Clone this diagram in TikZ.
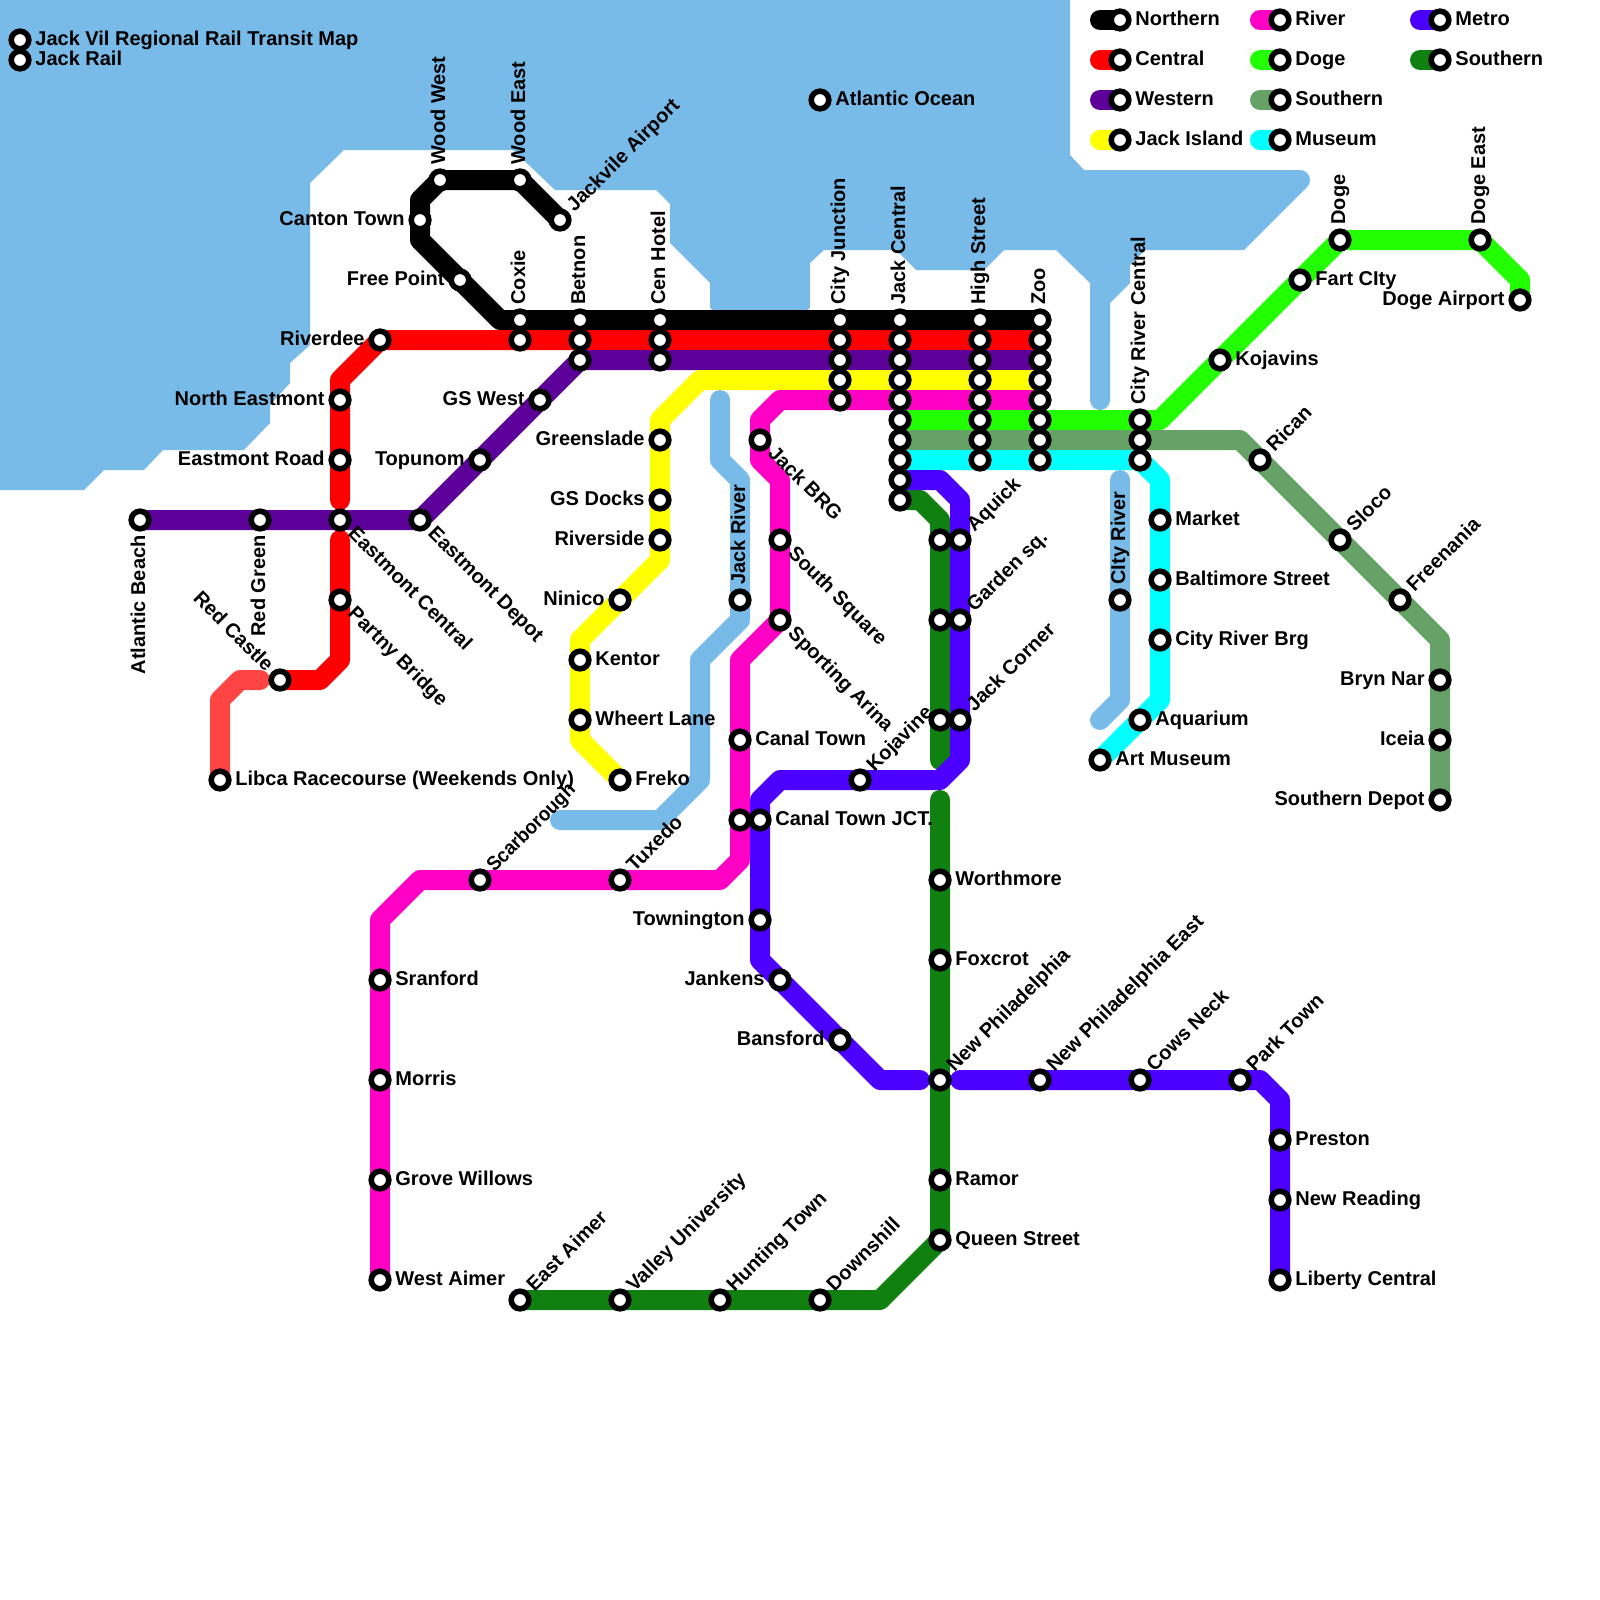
\documentclass[tikz,border=0pt]{standalone}
\usepackage{fontspec}
\setmainfont{Liberation Sans}
\usepackage{xcolor}
\usetikzlibrary{backgrounds}

\definecolor{watercol}{HTML}{79BBE8}
\definecolor{centralcol}{HTML}{FF0000}
\definecolor{lightredcol}{HTML}{FF4444}
\definecolor{westerncol}{HTML}{5C0099}
\definecolor{islandcol}{HTML}{FFFF00}
\definecolor{rivercol}{HTML}{FF00C4}
\definecolor{dogecol}{HTML}{22FF00}
\definecolor{southcol}{HTML}{66A266}
\definecolor{museumcol}{HTML}{00FFFF}
\definecolor{metrocol}{HTML}{4C00FF}
\definecolor{deepcol}{HTML}{108010}

\begin{document}
\begin{tikzpicture}[x=10pt, y=-10pt,
        rail/.style={line width=10pt, line cap=round, line join=round},
        stn/.style={circle, draw=black, fill=white, line width=2.8pt, minimum size=8.8pt, inner sep=0pt},
        labr/.style={anchor=base west, inner sep=0pt, font=\bfseries\fontsize{10}{12}\selectfont, rotate=#1, xshift=7.5pt, yshift=-2.6pt},
        labl/.style={anchor=base east, inner sep=0pt, font=\bfseries\fontsize{10}{12}\selectfont, rotate=#1, xshift=-7.5pt, yshift=-2.6pt},
    ]
    \useasboundingbox (0,0) rectangle (80,80);

    % Labels to the right
    \foreach \n/\x/\y/\t in {tit1/1/2/Jack Vil Regional Rail Transit Map, tit2/1/3/Jack Rail, oce/41/5/Atlantic Ocean,
        lib/11/39/Libca Racecourse (Weekends Only), fre/31/39/Freko, whe/29/36/Wheert Lane, ken/29/33/Kentor,
        cat/37/37/Canal Town, ctj/38/41/Canal Town JCT., fac/65/14/Fart CIty, koj/61/18/Kojavins,
        mar/58/26/Market, bal/58/29/Baltimore Street, brg/58/32/City River Brg, aqu/57/36/Aquarium, ame/55/38/Art Museum,
        wor/47/44/Worthmore, fox/47/48/Foxcrot, ram/47/59/Ramor, qst/47/62/Queen Street,
        sra/19/49/Sranford, mor/19/54/Morris, gro/19/59/Grove Willows, wai/19/64/West Aimer,
        pre/64/57/Preston, nre/64/60/New Reading, lce/64/64/Liberty Central} {
        \node[labr=0] (\n-t) at (\x,\y) {\t};
        \node[stn] (\n) at (\x,\y) {};
    }

    % Labels to the left
    \foreach \n/\x/\y/\t in {cnt/21/11/Canton Town, fpt/23/14/Free Point, riv/19/17/Riverdee, nea/17/20/North Eastmont,
        ero/17/23/Eastmont Road, gsw/27/20/GS West, top/24/23/Topunom, gre/33/22/Greenslade, gsd/33/25/GS Docks,
        rsd/33/27/Riverside, nin/31/30/Ninico, tow/38/46/Townington, jan/39/49/Jankens, ban/42/52/Bansford,
        bry/72/34/Bryn Nar, ice/72/37/Iceia, sde/72/40/Southern Depot, dap/76/15/Doge Airport} {
        \node[labl=0] (\n-t) at (\x,\y) {\t};
        \node[stn] (\n) at (\x,\y) {};
    }

    % Labels going up
    \foreach \n/\x/\y/\t in {wwe/22/9/Wood West, wea/26/9/Wood East, cox16/26/16/Coxie, bet16/29/16/Betnon,
        cen16/33/16/Cen Hotel, cj16/42/16/City Junction, jc16/45/16/Jack Central, hs16/49/16/High Street, zoo16/52/16/Zoo,
        crc21/57/21/City River Central, dog/67/12/Doge, dea/74/12/Doge East, jri/37/30/Jack River, cri/56/30/CIty River} {
        \node[labr=90] (\n-t) at (\x,\y) {\t};
        \node[stn] (\n) at (\x,\y) {};
    }

    % Labels going down, ending at the stop
    \foreach \n/\x/\y/\t/\a in {abe/7/26/Atlantic Beach/90, rgr/13/26/Red Green/90, rca/14/34/Red Castle/-45} {
        \node[labl=\a] (\n-t) at (\x,\y) {\t};
        \node[stn] (\n) at (\x,\y) {};
    }

    % Labels at 45 degrees up
    \foreach \n/\x/\y/\t in {jai/28/11/Jackvile Airport, ric/63/23/Rican, slo/67/27/Sloco, frn/70/30/Freenania,
        aqk/48/27/Aquick, gar/48/31/Garden sq., jcr/48/36/Jack Corner, kjv/43/39/Kojavine, sca/24/44/\scalebox{0.93}[1]{Scarborough},
        tux/31/44/Tuxedo, nph/47/54/New Philadelphia, npe/52/54/New Philadelphia East, cne/57/54/Cows Neck,
        pto/62/54/Park Town, eai/26/65/East Aimer, val/31/65/Valley University, hun/36/65/Hunting Town, dow/41/65/Downshill} {
        \node[labr=45] (\n-t) at (\x,\y) {\t};
        \node[stn] (\n) at (\x,\y) {};
    }

    % Labels at 45 degrees down
    \foreach \n/\x/\y/\t in {ece/17/26/Eastmont Central, ede/21/26/Eastmont Depot, par/17/30/Partny Bridge,
        jbr/38/22/Jack BRG, ssq/39/27/South Square, spa/39/31/Sporting Arina} {
        \node[labr=-45] (\n-t) at (\x,\y) {\t};
        \node[stn] (\n) at (\x,\y) {};
    }

    % Stops without a label
    \foreach \c/\x/\a/\b in {cox/26/17/17, bet/29/17/18, cen/33/17/18, cj/42/17/20, jc/45/17/25, hs/49/17/23, zoo/52/17/23, crc/57/22/23} {
        \foreach \y in {\a,...,\b} {
            \node[stn] (\c\y) at (\x,\y) {};
        }
    }
    \foreach \n/\x/\y in {ctl/37/41, gal/47/27, gbl/47/31, gcl/47/36} {
        \node[stn] (\n) at (\x,\y) {};
    }

    % Legend
    \foreach \n/\x/\y/\t in {lnor/56/1/Northern, lcen/56/3/Central, lwes/56/5/Western, lisl/56/7/Jack Island,
        lriv/64/1/River, ldog/64/3/Doge, lsou/64/5/Southern, lmus/64/7/Museum,
        lmet/72/1/Metro, ldee/72/3/Southern} {
        \node[labr=0] (\n-t) at (\x,\y) {\t};
        \node[stn] (\n) at (\x,\y) {};
        \coordinate (\n-s) at (\x-1,\y);
    }

    % Bends
    \foreach \n/\x/\y in {nb1/21/10, nb2/21/12, nb3/25/16,
        cb1/17/19, cb2/17/25, cb3/17/27, cb4/17/33, cb5/16/34, lb1/13/34, lb2/12/34, lb3/11/35,
        yb1/35/19, yb2/33/21, yb3/33/28, yb4/29/32, yb5/29/37,
        mb1/39/20, mb2/38/21, mb3/38/23, mb4/39/24, mb5/37/33, mb6/37/43, mb7/36/44, mb8/21/44, mb9/19/46,
        db1/58/21, db2/76/14, sb1/62/22, sb2/72/32, ub1/58/24, ub2/58/35,
        tb1/47/24, tb2/48/25, tb3/48/38, tb4/47/39, tb5/39/39, tb6/38/40, tb7/38/48, tb8/44/54, tb9/46/54,
        tb10/48/54, tb11/63/54, tb12/64/55,
        xb1/46/25, xb2/47/26, xb3/47/38, xb4/47/40, xb5/44/65,
        jb1/36/20, jb2/36/23, jb3/37/24, jb4/37/31, jb5/35/33, jb6/35/39, jb7/33/41, jb8/28/41,
        rb1/56/24, rb2/56/35, rb3/55/36} {
        \coordinate (\n) at (\x,\y);
    }

    \begin{scope}[on background layer]
        % Water
        \fill[watercol] (0,0) -- (53.5,0) -- (53.5,7.75) -- (54.2,8.5) -- (65,8.5) -- (65.354,9.354) -- (62.2,12.5)
            -- (57.25,12.5) -- (56.5,13.25) -- (56.5,14.15) -- (55.5,15.15) -- (55.5,20) -- (54.5,20) -- (54.5,14.15) -- (52.8,12.5)
            -- (50.2,12.5) -- (49.2,13.5) -- (45.8,13.5) -- (44.8,12.5) -- (41.2,12.5) -- (40.5,13.15)
            -- (40.5,15.15) .. controls (40.5,15.5) .. (40.15,15.5) -- (35.85,15.5) .. controls (35.5,15.5) .. (35.5,15.15)
            -- (35.5,14.15) -- (33.5,12.15) -- (33.5,10.2) -- (32.8,9.5)
            -- (27.75,9.5) -- (25.65,7.5) -- (17.2,7.5) -- (15.5,9.15) -- (15.5,17.25) -- (14.5,18.15) -- (14.5,19.15)
            -- (13.5,20.25) -- (13.5,21.15) -- (12.2,22.5) -- (8.15,22.5) -- (7.2,23.5) -- (5.2,23.5) -- (4.2,24.5)
            -- (0,24.5) -- cycle;
        \fill[watercol] (65,9) circle[radius=0.5];
        \fill[watercol] (55,20) circle[radius=0.5];
        \draw[rail, watercol] (jb1) -- (jb2) -- (jb3) -- (jb4) -- (jb5) -- (jb6) -- (jb7) -- (jb8);
        \draw[rail, watercol] (rb1) -- (rb2) -- (rb3);

        % Legend swatches
        \foreach \n/\c in {lnor/black, lcen/centralcol, lwes/westerncol, lisl/islandcol, lriv/rivercol,
            ldog/dogecol, lsou/southcol, lmus/museumcol, lmet/metrocol, ldee/deepcol} {
            \draw[rail, \c] (\n-s) -- (\n.center);
        }

        % Lines
        \draw[rail, lightredcol] (lb1) -- (lb2) -- (lb3) -- (lib.center);
        \draw[rail, centralcol] (zoo17.center) -- (riv.center) -- (cb1) -- (cb2);
        \draw[rail, centralcol] (cb3) -- (cb4) -- (cb5) -- (rca.center);
        \draw[rail, black] (jai.center) -- (wea.center) -- (wwe.center) -- (nb1) -- (nb2) -- (nb3) -- (zoo16.center);
        \draw[rail, westerncol] (abe.center) -- (ede.center) -- (bet18.center) -- (zoo18.center);
        \draw[rail, islandcol] (zoo19.center) -- (yb1) -- (yb2) -- (yb3) -- (yb4) -- (yb5) -- (fre.center);
        \draw[rail, rivercol] (zoo20.center) -- (mb1) -- (mb2) -- (mb3) -- (mb4) -- (spa.center) -- (mb5) -- (mb6) -- (mb7) -- (mb8) -- (mb9) -- (wai.center);
        \draw[rail, dogecol] (jc21.center) -- (db1) -- (dog.center) -- (dea.center) -- (db2) -- (dap.center);
        \draw[rail, southcol] (jc22.center) -- (sb1) -- (sb2) -- (sde.center);
        \draw[rail, museumcol] (jc23.center) -- (crc23.center) -- (ub1) -- (ub2) -- (ame.center);
        \draw[rail, deepcol] (jc25.center) -- (xb1) -- (xb2) -- (xb3);
        \draw[rail, deepcol] (xb4) -- (qst.center) -- (xb5) -- (eai.center);
        \draw[rail, metrocol] (jc24.center) -- (tb1) -- (tb2) -- (tb3) -- (tb4) -- (tb5) -- (tb6) -- (tb7) -- (tb8) -- (tb9);
        \draw[rail, metrocol] (tb10) -- (tb11) -- (tb12) -- (lce.center);
    \end{scope}
\end{tikzpicture}
\end{document}
